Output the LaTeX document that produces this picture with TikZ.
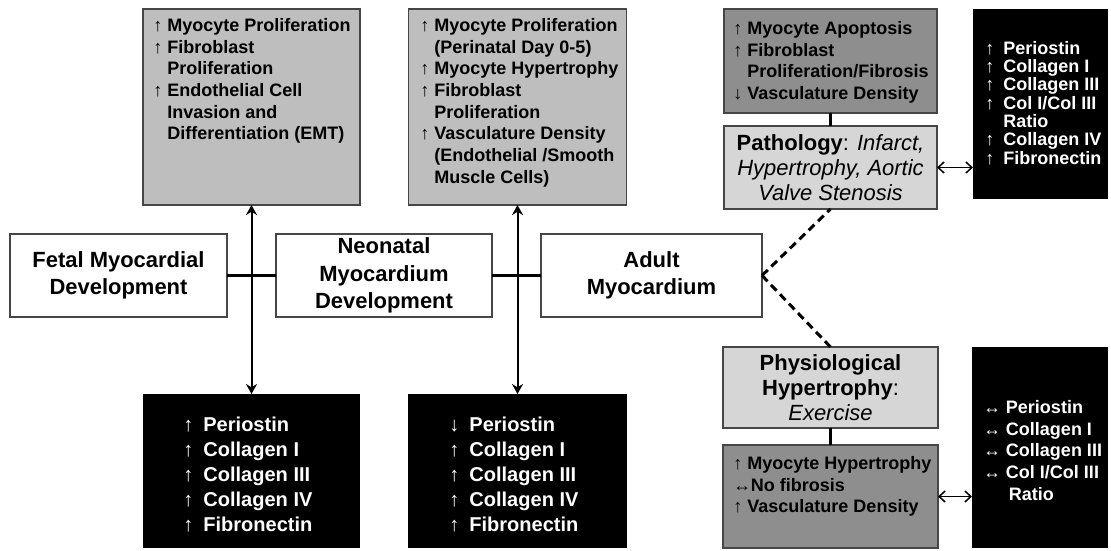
\documentclass[tikz,border=0pt]{standalone}
\usepackage{fontspec}
\setmainfont{Liberation Sans}
\usetikzlibrary{positioning, arrows.meta}
\definecolor{lightgrey}{RGB}{190,190,190}
\definecolor{midgrey}{RGB}{142,142,142}
\definecolor{palegrey}{RGB}{214,214,214}
\definecolor{edgegrey}{RGB}{70,70,70}
\newcommand{\bothways}{{\fontsize{10}{10}\selectfont ↔}}
\newcommand{\indt}{\phantom{↑ }}

\begin{document}
\begin{tikzpicture}[x=0.2mm, y=-0.2mm,
                    stage/.style={draw=edgegrey, fill=white, line width=0.8pt, inner sep=0pt, outer sep=0pt,
                                  minimum height=16.6mm, align=center, font=\bfseries\fontsize{12.5}{15.6}\selectfont},
                    cell/.style={draw=edgegrey, fill=lightgrey, line width=0.6pt, inner sep=0pt, outer sep=0pt},
                    matrixbox/.style={fill=black, inner sep=0pt, outer sep=0pt},
                    celltext/.style={anchor=north west, inner sep=0pt, align=left, font=\bfseries\fontsize{10.25}{12.35}\selectfont},
                    ecmtext/.style={anchor=north west, inner sep=0pt, align=left, text=white, font=\bfseries\fontsize{11.4}{14.2}\selectfont},
                    link/.style={line width=0.6mm},
                    twoway/.style={line width=0.4mm, {Stealth[length=2mm, width=2.2mm]}-{Stealth[length=2mm, width=2.2mm]}},
                    sideway/.style={line width=0.3mm, {Straight Barb[length=1.2mm, width=2.2mm]}-{Straight Barb[length=1.2mm, width=2.2mm]}},
                    branch/.style={line width=0.6mm, dash pattern=on 1.6mm off 1mm}]
    \useasboundingbox (0,0) rectangle (1111,550);

    % Stages
    \node[stage, minimum width=43.4mm] (fetal) at (118.5,275.5) {Fetal Myocardial\\Development};
    \node[stage, minimum width=43.2mm] (neonatal) at (384,275.5) {Neonatal\\Myocardium\\Development};
    \node[stage, minimum width=44.2mm] (adult) at (651.5,275.5) {Adult\\Myocardium};

    \draw[link] (fetal) -- (neonatal);
    \draw[link] (neonatal) -- (adult);

    % Cellular changes
    \node[cell, minimum width=43.4mm, minimum height=39.2mm] (fetalcell) at (251.5,107) {};
    \node[cell, minimum width=43.6mm, minimum height=39.2mm] (neocell) at (517.5,107) {};
    \node[celltext] (fetalcelltxt) at (153,18) {↑ Myocyte Proliferation\\↑ Fibroblast\\\indt Proliferation\\↑ Endothelial Cell\\\indt Invasion and\\\indt Differentiation (EMT)};
    \node[celltext] (neocelltxt) at (420,18) {↑ Myocyte Proliferation\\\indt (Perinatal Day 0-5)\\↑ Myocyte Hypertrophy\\↑ Fibroblast\\\indt Proliferation\\↑ Vasculature Density\\\indt (Endothelial /Smooth\\\indt Muscle Cells)};

    % Matrix changes
    \node[matrixbox, minimum width=43.4mm, minimum height=30.8mm] (fetalecm) at (251.5,471) {};
    \node[matrixbox, minimum width=43.8mm, minimum height=30.8mm] (neoecm) at (517.5,471) {};
    \node[ecmtext] (fetalecmtxt) at (183,417) {↑\enspace Periostin\\↑\enspace Collagen I\\↑\enspace Collagen III\\↑\enspace Collagen IV\\↑\enspace Fibronectin};
    \node[ecmtext] (neoecmtxt) at (449,417) {↓\enspace Periostin\\↑\enspace Collagen I\\↑\enspace Collagen III\\↑\enspace Collagen IV\\↑\enspace Fibronectin};

    \draw[twoway] (fetalcell) -- (fetalecm);
    \draw[twoway] (neocell) -- (neoecm);

    % Pathology
    \node[cell, fill=palegrey, minimum width=42.6mm, minimum height=16.6mm, align=center,
          font=\fontsize{12.5}{14.2}\selectfont] (patho) at (830.5,167.5)
          {\textbf{Pathology}: \textit{Infarct,}\\\textit{Hypertrophy, Aortic}\\\textit{Valve Stenosis}};
    \node[cell, fill=midgrey, minimum width=42.6mm, minimum height=20.8mm] (pathocell) at (830.5,61) {};
    \node[celltext] (pathocelltxt) at (733,21) {↑ Myocyte Apoptosis\\↑ Fibroblast\\\indt Proliferation/Fibrosis\\↓ Vasculature Density};
    \node[matrixbox, minimum width=27mm, minimum height=38mm] (pathoecm) at (1040.5,104) {};
    \node[ecmtext, font=\bfseries\fontsize{10.25}{10.4}\selectfont] (pathoecmtxt) at (985,41)
          {↑\enspace Periostin\\↑\enspace Collagen I\\↑\enspace Collagen III\\↑\enspace Col I/Col III\\\phantom{↑\enspace}Ratio\\↑\enspace Collagen IV\\↑\enspace Fibronectin};

    \draw[link] (pathocell) -- (patho);
    \draw[sideway] (patho.east) -- (patho.east -| pathoecm.west);

    % Physiological hypertrophy
    \node[cell, fill=palegrey, minimum width=43mm, minimum height=16.2mm, align=center,
          font=\fontsize{12.5}{14.2}\selectfont] (physio) at (830.5,387.5)
          {\textbf{Physiological}\\\textbf{Hypertrophy}:\\\textit{Exercise}};
    \node[cell, fill=midgrey, minimum width=43mm, minimum height=20.6mm] (physiocell) at (830.5,496.5) {};
    \node[celltext] (physiocelltxt) at (733,456) {↑ Myocyte Hypertrophy\\\bothways No fibrosis\\↑ Vasculature Density};
    \node[matrixbox, minimum width=27.2mm, minimum height=40.2mm] (physioecm) at (1040,447.5) {};
    \node[ecmtext, font=\bfseries\fontsize{10.25}{12.35}\selectfont] (physioecmtxt) at (983,400)
          {\bothways{} Periostin\\\bothways{} Collagen I\\\bothways{} Collagen III\\\bothways{} Col I/Col III\\\phantom{\bothways{} }\,Ratio};

    \draw[link] (physio) -- (physiocell);
    \draw[sideway] (physiocell.east) -- (physiocell.east -| physioecm.west);

    % Branches from adult
    \draw[branch] (adult.east) -- (patho.south);
    \draw[branch] (adult.east) -- (physio.north);
\end{tikzpicture}
\end{document}
